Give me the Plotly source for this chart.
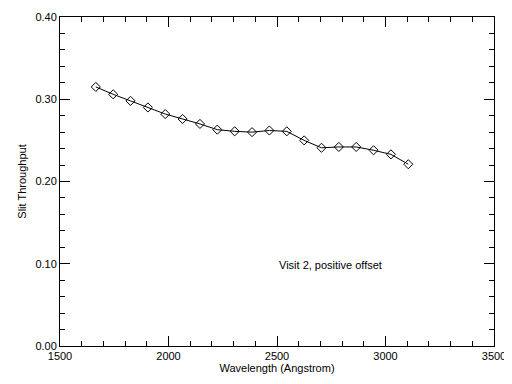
import plotly.graph_objects as go

wavelength = [1665, 1745, 1825, 1905, 1985, 2065, 2145, 2225, 2305, 2385,
              2465, 2545, 2625, 2705, 2785, 2865, 2945, 3025, 3105]
throughput = [0.315, 0.306, 0.298, 0.290, 0.282, 0.276, 0.270, 0.263, 0.261, 0.260,
              0.262, 0.261, 0.250, 0.241, 0.242, 0.242, 0.238, 0.233, 0.221]

x_ticks = [1500, 2000, 2500, 3000, 3500]
y_ticks = [0.0, 0.1, 0.2, 0.3, 0.4]
y_tick_labels = ["0.00", "0.10", "0.20", "0.30", "0.40"]

font = dict(family="Liberation Sans", size=11, color="black")

fig = go.Figure()
fig.add_trace(go.Scatter(
    x=wavelength, y=throughput, mode="lines+markers",
    line=dict(color="black", width=1),
    marker=dict(symbol="diamond-open", size=7, color="black", line=dict(width=1)),
    showlegend=False,
))

axis_common = dict(
    showgrid=False, zeroline=False, showline=True, linecolor="black", linewidth=1,
    mirror="allticks", ticks="inside", ticklen=10, tickwidth=1, tickcolor="black",
    tickfont=font, automargin=False,
)
fig.update_xaxes(
    range=[1500, 3500], tickvals=x_ticks, ticktext=[str(v) for v in x_ticks],
    minor=dict(ticks="inside", ticklen=5, dtick=100, tick0=1500, tickcolor="black", showgrid=False),
    title=dict(text="Wavelength (Angstrom)", font=font, standoff=0),
    ticklabeloverflow="allow",
    **axis_common,
)
fig.update_yaxes(
    range=[0, 0.4], tickvals=y_ticks, ticktext=y_tick_labels,
    minor=dict(ticks="inside", ticklen=5, dtick=0.02, tick0=0, tickcolor="black", showgrid=False),
    title=dict(text="Slit Throughput", font=font, standoff=6),
    **axis_common,
)
fig.add_annotation(x=2500, y=0.098, text="Visit 2, positive offset", showarrow=False,
                   xanchor="left", yanchor="middle", font=font)
# page body has an 8px default margin, so the figure is offset by 8px
fig.update_layout(
    width=504, height=368, paper_bgcolor="white", plot_bgcolor="white",
    margin=dict(l=52, r=18, t=9, b=30),
)
fig.write_html("out.html")
